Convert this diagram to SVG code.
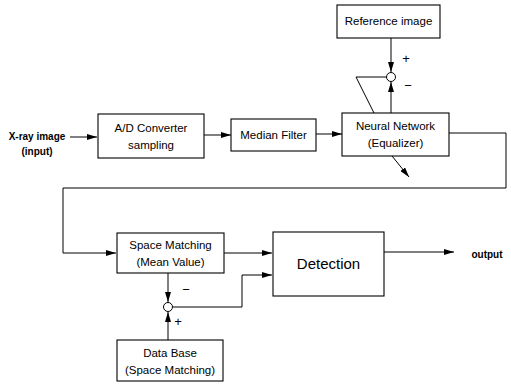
<svg xmlns="http://www.w3.org/2000/svg" width="511" height="384" viewBox="0 0 511 384">
<defs>
<marker id="ah" viewBox="0 0 10 6" refX="10" refY="3" markerWidth="10" markerHeight="6" markerUnits="userSpaceOnUse" orient="auto">
<path d="M0,0 L10,3 L0,6 Z" fill="#000"/>
</marker>
</defs>
<style>
.box{fill:#fff;stroke:#000;stroke-width:1.1}
.ln{fill:none;stroke:#000;stroke-width:1}
.t{font-family:"Liberation Sans",Arial,sans-serif;font-size:11.5px;fill:#000;text-anchor:middle}
.b{font-weight:bold;font-size:10px}
.big{font-size:15px}
.sg{font-size:13px}
.sum{fill:#fff;stroke:#000;stroke-width:1}
</style>
<rect width="511" height="384" fill="#fff"/>
<g id="connectors">
<line class="ln" x1="70" y1="137" x2="97" y2="137" marker-end="url(#ah)"/>
<line class="ln" x1="204" y1="135" x2="231" y2="135" marker-end="url(#ah)"/>
<line class="ln" x1="316" y1="134" x2="342" y2="134" marker-end="url(#ah)"/>
<line class="ln" x1="391" y1="38" x2="391" y2="72" marker-end="url(#ah)"/>
<line class="ln" x1="391" y1="113" x2="391" y2="82" marker-end="url(#ah)"/>
<polyline class="ln" points="387,77 356,77 374,113"/>
<line class="ln" x1="392" y1="156" x2="409" y2="177" marker-end="url(#ah)"/>
<polyline class="ln" points="449,133 506,133 506,188 63,188 63,253 116,253" marker-end="url(#ah)"/>
<line class="ln" x1="224" y1="253" x2="272" y2="253" marker-end="url(#ah)"/>
<line class="ln" x1="168" y1="273" x2="168" y2="302" marker-end="url(#ah)"/>
<line class="ln" x1="168" y1="340" x2="168" y2="312" marker-end="url(#ah)"/>
<polyline class="ln" points="173,307 242,307 242,275 272,275" marker-end="url(#ah)"/>
<line class="ln" x1="384" y1="252" x2="454" y2="252" marker-end="url(#ah)"/>
</g>
<g id="sum-top"><circle class="sum" cx="391" cy="77" r="4.5"/></g>
<g id="sum-bottom"><circle class="sum" cx="168" cy="307" r="4.5"/></g>
<g id="signs">
<text class="t sg" x="406" y="63">+</text>
<text class="t sg" x="408" y="90">−</text>
<text class="t sg" x="186" y="294">−</text>
<text class="t sg" x="178" y="326">+</text>
</g>
<g id="xray"><text class="t b" x="37" y="140">X-ray image</text><text class="t b" x="37" y="155">(input)</text></g>
<g id="adc"><rect class="box" x="98" y="114" width="106" height="44"/><text class="t" x="151" y="132">A/D Converter</text><text class="t" x="151" y="149">sampling</text></g>
<g id="median"><rect class="box" x="231" y="119" width="85" height="32"/><text class="t" x="273.5" y="139">Median Filter</text></g>
<g id="nn"><rect class="box" x="342" y="113" width="107" height="43"/><text class="t" x="395.5" y="130">Neural Network</text><text class="t" x="395.5" y="147">(Equalizer)</text></g>
<g id="ref"><rect class="box" x="337" y="5" width="103" height="33"/><text class="t" x="388.5" y="25">Reference image</text></g>
<g id="space"><rect class="box" x="117" y="233" width="107" height="40"/><text class="t" x="170.5" y="249">Space Matching</text><text class="t" x="170.5" y="266">(Mean Value)</text></g>
<g id="detection"><rect class="box" x="273" y="232" width="111" height="64"/><text class="t big" x="328.5" y="269">Detection</text></g>
<g id="database"><rect class="box" x="117" y="340" width="106" height="41"/><text class="t" x="170" y="357">Data Base</text><text class="t" x="170" y="374">(Space Matching)</text></g>
<g id="output"><text class="t b" x="487" y="258">output</text></g>
</svg>
